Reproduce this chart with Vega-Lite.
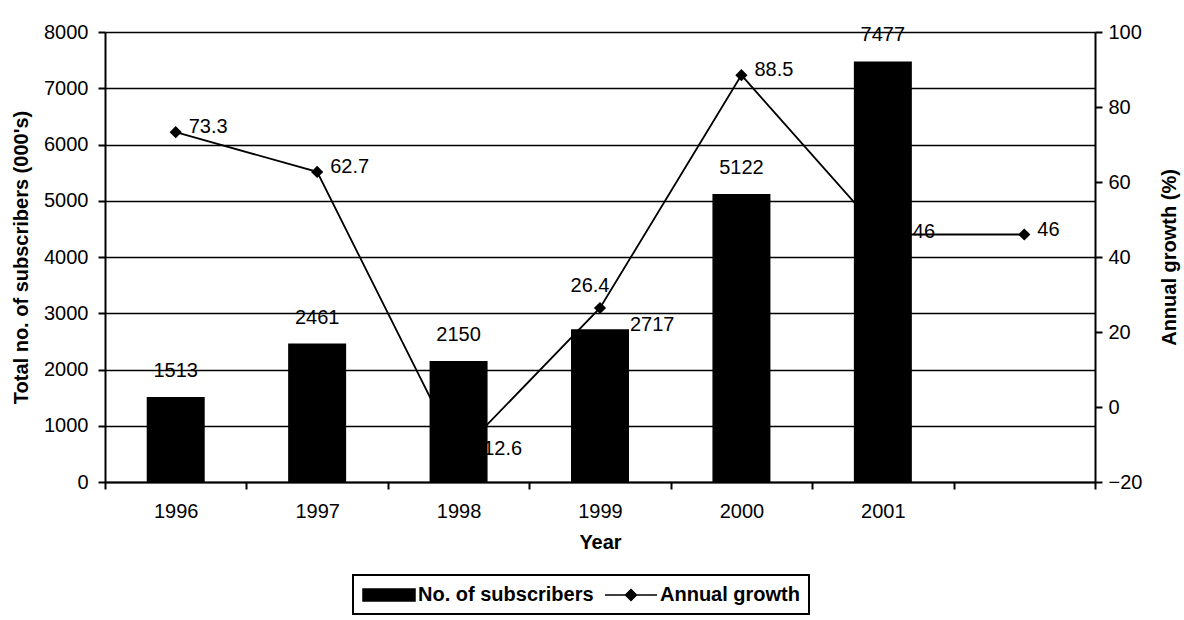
{
  "$schema": "https://vega.github.io/schema/vega-lite/v6.json",
  "width": 990,
  "height": 450,
  "autosize": {"type": "none"},
  "padding": {"left": 105, "top": 32, "right": 89, "bottom": 138},
  "background": "white",
  "config": {
    "font": "Liberation Sans",
    "view": {"stroke": null},
    "axis": {
      "labelFont": "Liberation Sans",
      "titleFont": "Liberation Sans",
      "labelColor": "black",
      "titleColor": "black",
      "domainColor": "black",
      "tickColor": "black",
      "gridColor": "black",
      "labelFontSize": 20,
      "titleFontSize": 20,
      "titleFontWeight": "bold",
      "domainWidth": 2,
      "tickWidth": 2,
      "gridWidth": 1.5,
      "gridOpacity": 1
    }
  },
  "data": {
    "values": [
      {"year": "1996", "subscribers": 1513, "growth": 73.3},
      {"year": "1997", "subscribers": 2461, "growth": 62.7},
      {"year": "1998", "subscribers": 2150, "growth": -12.6},
      {"year": "1999", "subscribers": 2717, "growth": 26.4},
      {"year": "2000", "subscribers": 5122, "growth": 88.5},
      {"year": "2001", "subscribers": 7477, "growth": 46},
      {"year": " ", "subscribers": null, "growth": 46}
    ]
  },
  "encoding": {
    "x": {
      "field": "year",
      "type": "ordinal",
      "scale": {"domain": ["1996", "1997", "1998", "1999", "2000", "2001", " "], "paddingInner": 0, "paddingOuter": 0},
      "axis": {"title": "Year", "labelAngle": 0, "tickBand": "extent", "tickSize": 7, "labelPadding": 12, "titlePadding": 11, "grid": false}
    }
  },
  "layer": [
    {
      "transform": [{"filter": "isValid(datum.subscribers)"}],
      "encoding": {
        "y": {
          "field": "subscribers",
          "type": "quantitative",
          "scale": {"domain": [0, 8000], "nice": false},
          "axis": {"orient": "left", "values": [0, 1000, 2000, 3000, 4000, 5000, 6000, 7000, 8000], "format": "d", "title": "Total no. of subscribers (000's)", "grid": true, "tickSize": 7, "labelPadding": 10, "titlePadding": 12}
        }
      },
      "layer": [
        {
          "mark": {"type": "bar", "width": {"band": 0.41}},
          "encoding": {
            "color": {
              "datum": "No. of subscribers",
              "type": "nominal",
              "scale": {"domain": ["No. of subscribers", "Annual growth"], "range": ["black", "black"]},
              "legend": {
                "title": null,
                "orient": "none",
                "legendX": 248,
                "legendY": 543,
                "direction": "horizontal",
                "strokeColor": "black",
                "fillColor": "white",
                "padding": 9,
                "labelFont": "Liberation Sans",
                "labelFontSize": 20,
                "labelFontWeight": "bold",
                "labelColor": "black",
                "labelLimit": 400,
                "symbolSize": 400,
                "labelOffset": 34,
                "columnPadding": 8,
                "encode": {
                  "legend": {"update": {"strokeWidth": {"value": 2}}},
                  "symbols": {
                    "update": {
                      "shape": {"signal": "datum.value === 'Annual growth' ? 'M-1,0H4.2M1.6,-0.55L2.15,0L1.6,0.55L1.05,0Z' : 'M-1,-0.6H4.2V0.6H-1Z'"},
                      "fill": {"value": "black"},
                      "stroke": {"value": "black"},
                      "strokeWidth": {"value": 1.5},
                      "opacity": {"value": 1},
                      "fillOpacity": {"value": 1}
                    }
                  }
                }
              }
            }
          }
        },
        {
          "transform": [{"filter": "datum.year !== '1999'"}],
          "mark": {"type": "text", "baseline": "middle", "dy": -26, "fontSize": 20, "color": "black"},
          "encoding": {"text": {"field": "subscribers", "type": "quantitative", "format": "d"}}
        },
        {
          "transform": [{"filter": "datum.year === '1999'"}],
          "mark": {"type": "text", "align": "left", "baseline": "middle", "dx": 30, "dy": -4, "fontSize": 20, "color": "black"},
          "encoding": {"text": {"field": "subscribers", "type": "quantitative", "format": "d"}}
        }
      ]
    },
    {
      "encoding": {
        "y": {
          "field": "growth",
          "type": "quantitative",
          "scale": {"domain": [-20, 100], "nice": false},
          "axis": {"orient": "right", "values": [-20, 0, 20, 40, 60, 80, 100], "title": "Annual growth (%)", "titleAngle": 270, "grid": false, "tickSize": 7, "labelPadding": 6, "titlePadding": 38}
        }
      },
      "layer": [
        {
          "mark": {"type": "line", "strokeWidth": 1.8},
          "encoding": {"color": {"datum": "Annual growth", "type": "nominal"}}
        },
        {
          "mark": {"type": "point", "shape": "diamond", "filled": true, "size": 150, "opacity": 1},
          "encoding": {"color": {"datum": "Annual growth", "type": "nominal"}}
        },
        {
          "transform": [{"filter": "datum.year !== '1999' && datum.year !== '2001'"}],
          "mark": {"type": "text", "align": "left", "baseline": "middle", "dx": 13, "dy": -5, "fontSize": 20, "color": "black"},
          "encoding": {"text": {"field": "growth", "type": "quantitative", "format": ".1~f"}}
        },
        {
          "transform": [{"filter": "datum.year === '2001'"}],
          "mark": {"type": "text", "align": "left", "baseline": "middle", "dx": 30, "dy": -3, "fontSize": 20, "color": "black"},
          "encoding": {"text": {"field": "growth", "type": "quantitative", "format": ".1~f"}}
        },
        {
          "transform": [{"filter": "datum.year === '1999'"}],
          "mark": {"type": "text", "align": "center", "baseline": "middle", "dx": -10, "dy": -22, "fontSize": 20, "color": "black"},
          "encoding": {"text": {"field": "growth", "type": "quantitative", "format": ".1~f"}}
        }
      ]
    }
  ],
  "resolve": {"scale": {"y": "independent"}}
}
